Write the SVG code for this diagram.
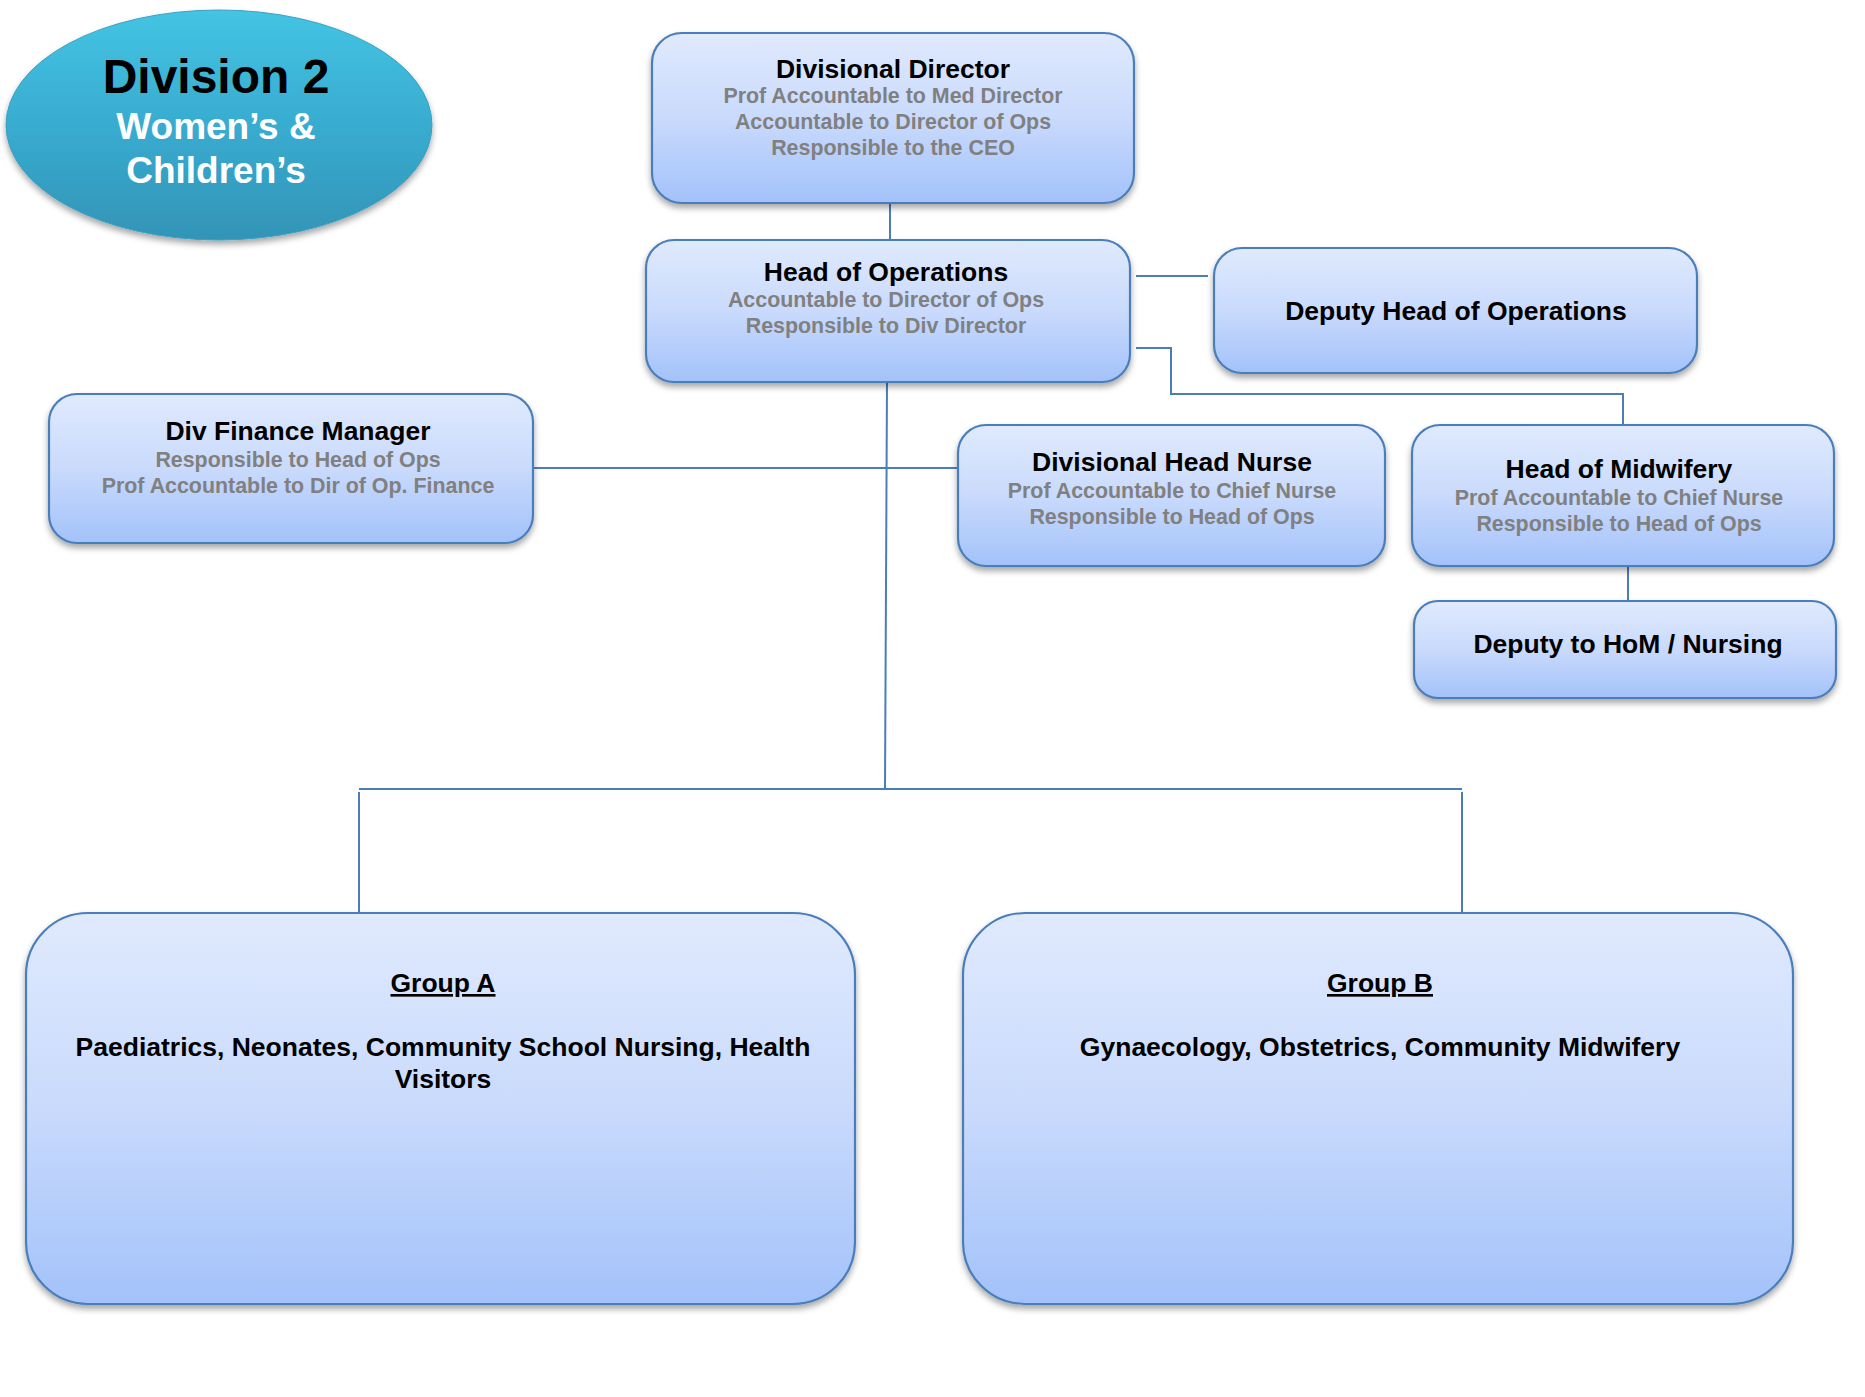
<svg xmlns="http://www.w3.org/2000/svg" width="1865" height="1397" viewBox="0 0 1865 1397">
<style>
.box{fill:url(#boxGrad);stroke:#4a7ebb;stroke-width:2.2;filter:url(#shadow)}
.conn{fill:none;stroke:#4a7ebb;stroke-width:2}
text{font-family:"Liberation Sans",Arial,sans-serif;font-weight:bold;text-anchor:middle}
.t{font-size:26.5px;fill:#000}
.big{font-size:26.5px;fill:#000}
.g{font-size:21.4px;fill:#808080}
</style>
<defs>
<linearGradient id="boxGrad" x1="0" y1="0" x2="0" y2="1">
<stop offset="0" stop-color="#e0eafd"/>
<stop offset="0.5" stop-color="#c9dafc"/>
<stop offset="1" stop-color="#a3c2fa"/>
</linearGradient>
<linearGradient id="ellGrad" x1="0" y1="0" x2="0" y2="1">
<stop offset="0" stop-color="#44c4e3"/>
<stop offset="0.5" stop-color="#38acd0"/>
<stop offset="1" stop-color="#3394b6"/>
</linearGradient>
<filter id="shadow" x="-10%" y="-10%" width="120%" height="130%">
<feDropShadow dx="0" dy="4" stdDeviation="3" flood-color="#000" flood-opacity="0.35"/>
</filter>
</defs>
<rect width="1865" height="1397" fill="#fff"/>
<g id="connectors">
<line class="conn" x1="890" y1="203" x2="890" y2="240"/>
<line class="conn" x1="1136" y1="276" x2="1208" y2="276"/>
<polyline class="conn" points="1136,348 1171,348 1171,394 1623,394 1623,425"/>
<line class="conn" x1="887" y1="382" x2="885" y2="789"/>
<line class="conn" x1="533" y1="468" x2="958" y2="468"/>
<line class="conn" x1="1628" y1="566" x2="1628" y2="601"/>
<line class="conn" x1="359" y1="789" x2="1462" y2="789"/>
<line class="conn" x1="359" y1="792" x2="359" y2="913"/>
<line class="conn" x1="1462" y1="792" x2="1462" y2="913"/>
</g>
<g id="division-title">
<ellipse cx="219" cy="125" rx="213" ry="115" fill="url(#ellGrad)" stroke="#3aa0c4" stroke-width="1" filter="url(#shadow)"/>
<text x="216" y="93" style="font-size:48px;fill:#000">Division 2</text>
<text x="216" y="139" style="font-size:37px;fill:#fff">Women’s &amp;</text>
<text x="216" y="183" style="font-size:37px;fill:#fff">Children’s</text>
</g>
<g id="divisional-director">
<rect class="box" x="652" y="33" width="482" height="170" rx="30"/>
<text class="t" x="893" y="78">Divisional Director</text>
<text class="g" x="893" y="103">Prof Accountable to Med Director</text>
<text class="g" x="893" y="129">Accountable to Director of Ops</text>
<text class="g" x="893" y="155">Responsible to the CEO</text>
</g>
<g id="head-of-operations">
<rect class="box" x="646" y="240" width="484" height="142" rx="28"/>
<text class="t" x="886" y="281">Head of Operations</text>
<text class="g" x="886" y="307">Accountable to Director of Ops</text>
<text class="g" x="886" y="333">Responsible to Div Director</text>
</g>
<g id="deputy-head-of-operations">
<rect class="box" x="1214" y="248" width="483" height="125" rx="28"/>
<text class="t" x="1456" y="320">Deputy Head of Operations</text>
</g>
<g id="div-finance-manager">
<rect class="box" x="49" y="394" width="484" height="149" rx="28"/>
<text class="t" x="298" y="440">Div Finance Manager</text>
<text class="g" x="298" y="467">Responsible to Head of Ops</text>
<text class="g" x="298" y="493">Prof Accountable to Dir of Op. Finance</text>
</g>
<g id="divisional-head-nurse">
<rect class="box" x="958" y="425" width="427" height="141" rx="28"/>
<text class="t" x="1172" y="471">Divisional Head Nurse</text>
<text class="g" x="1172" y="498">Prof Accountable to Chief Nurse</text>
<text class="g" x="1172" y="524">Responsible to Head of Ops</text>
</g>
<g id="head-of-midwifery">
<rect class="box" x="1412" y="425" width="422" height="141" rx="28"/>
<text class="t" x="1619" y="478">Head of Midwifery</text>
<text class="g" x="1619" y="505">Prof Accountable to Chief Nurse</text>
<text class="g" x="1619" y="531">Responsible to Head of Ops</text>
</g>
<g id="deputy-hom-nursing">
<rect class="box" x="1414" y="601" width="422" height="97" rx="24"/>
<text class="t" x="1628" y="653">Deputy to HoM / Nursing</text>
</g>
<g id="group-a">
<rect class="box" x="26" y="913" width="829" height="391" rx="62"/>
<text class="big" x="443" y="992" text-decoration="underline">Group A</text>
<text class="big" x="443" y="1056">Paediatrics, Neonates, Community School Nursing, Health</text>
<text class="big" x="443" y="1088">Visitors</text>
</g>
<g id="group-b">
<rect class="box" x="963" y="913" width="830" height="391" rx="62"/>
<text class="big" x="1380" y="992" text-decoration="underline">Group B</text>
<text class="big" x="1380" y="1056">Gynaecology, Obstetrics, Community Midwifery</text>
</g>
</svg>
